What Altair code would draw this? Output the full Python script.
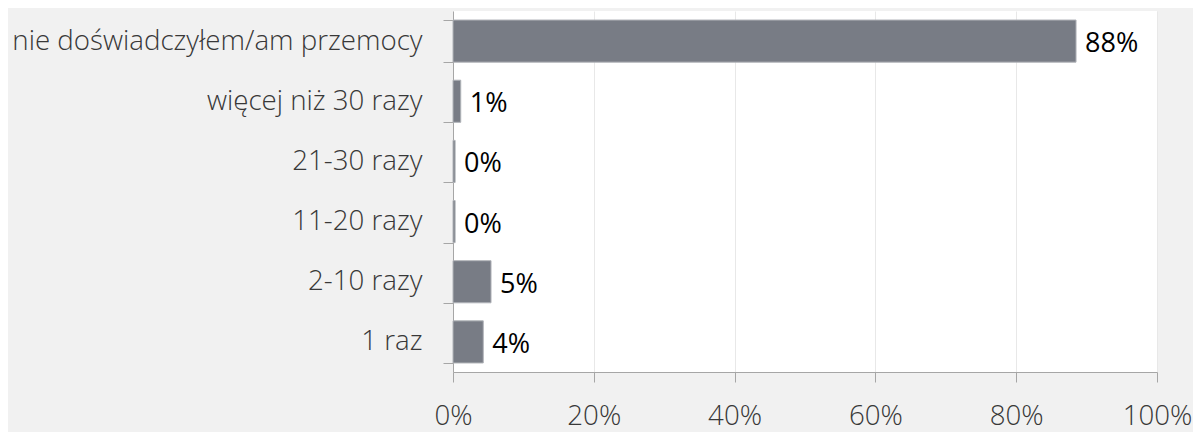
import altair as alt
import pandas as pd

categories = ["nie doświadczyłem/am przemocy", "więcej niż 30 razy", "21-30 razy",
              "11-20 razy", "2-10 razy", "1 raz"]
values = [88.5, 1.1, 0.3, 0.3, 5.4, 4.3]
labels = ["88%", "1%", "0%", "0%", "5%", "4%"]
x_ticks = [0, 20, 40, 60, 80, 100]

df = pd.DataFrame({"cat": categories, "val": values, "lab": labels})

FONT = "Open Sans"

y_enc = alt.Y(
    "cat:N", sort=categories, title=None,
    scale=alt.Scale(paddingInner=0.3, paddingOuter=0.15),
    axis=alt.Axis(tickBand="extent", labelFontSize=27.7, labelFont=FONT, labelFontWeight=300,
                  labelColor="#383838", labelPadding=21, tickSize=10, tickColor="#a6a6a6",
                  domainColor="#a6a6a6", labelLimit=600, grid=False),
)
x_enc = alt.X(
    "val:Q", title=None, scale=alt.Scale(domain=[0, 100], nice=False),
    axis=alt.Axis(values=x_ticks, labelExpr="datum.value + '%'", labelFontSize=27.7,
                  labelFont=FONT, labelFontWeight=300, labelColor="#383838", labelPadding=20,
                  labelFlush=False, tickSize=10, tickColor="#a6a6a6", domainColor="#a6a6a6",
                  grid=True, gridColor="#e8e8e8"),
)

bars = alt.Chart(df).mark_bar(color="#787c85", stroke="#b0b3b8", strokeWidth=1).encode(
    x=x_enc, y=y_enc
)
text = alt.Chart(df).mark_text(align="left", baseline="middle", dx=9, dy=3, fontSize=27,
                               font=FONT, color="#000000").encode(
    x=alt.X("val:Q"), y=alt.Y("cat:N", sort=categories), text="lab:N"
)

chart = (bars + text).properties(
    width=704, height=361,
    padding={"left": 445, "top": 3, "right": 36, "bottom": 60},
    autosize=alt.AutoSizeParams(type="none"),
    background="#f1f1f1",
).configure_view(stroke=None, fill="#ffffff")

chart.save("out.html", embed_options={"renderer": "svg", "actions": False})
